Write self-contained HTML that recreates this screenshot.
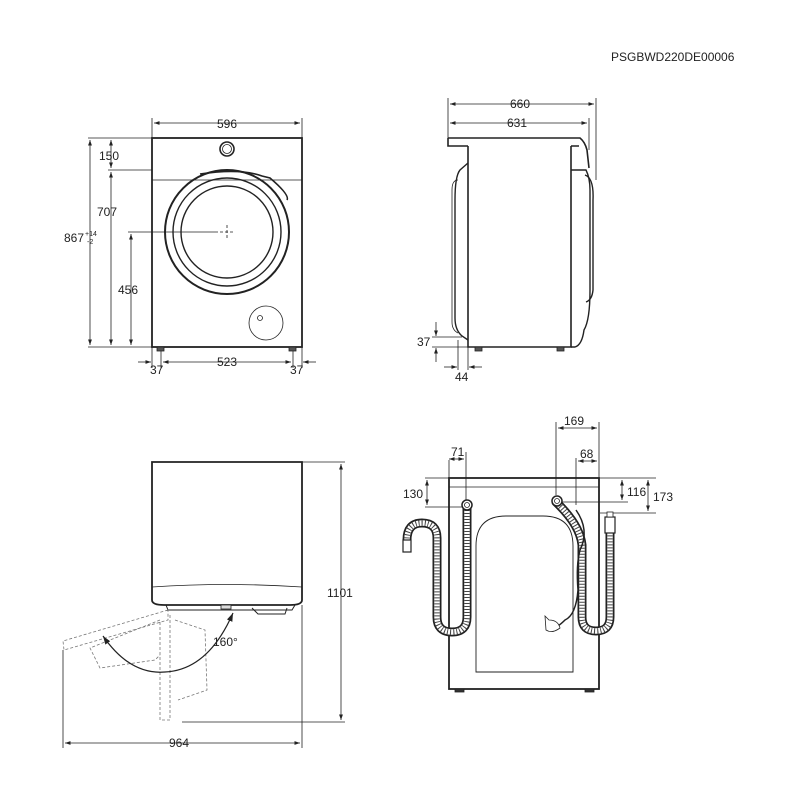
<!DOCTYPE html>
<html><head><style>body{margin:0;background:#fff}svg{display:block}text{font-family:"Liberation Sans",sans-serif;font-size:12px;fill:#222}</style></head>
<body>
<svg width="800" height="800" viewBox="0 0 800 800" xmlns="http://www.w3.org/2000/svg">
<defs>
<marker id="a" viewBox="0 0 10 10" refX="10" refY="5" markerWidth="7" markerHeight="7" orient="auto-start-reverse"><path d="M0,1.5 L10,5 L0,8.5 z" fill="#222"/></marker>
</defs>
<text x="611" y="61">PSGBWD220DE00006</text>
<g stroke="#222" fill="none" stroke-width="0.8">
<!-- FRONT VIEW -->
<rect x="152" y="138" width="150" height="209" stroke-width="1.8"/>
<path d="M152,180 H302" stroke-width="0.8"/>
<path d="M152,118 V138 M302,118 V138 M88,138 H152 M108,170 H152 M88,347 H152 M128,232 H218"/>
<line x1="154" y1="123" x2="300" y2="123" marker-start="url(#a)" marker-end="url(#a)"/>
<line x1="90" y1="140" x2="90" y2="345" marker-start="url(#a)" marker-end="url(#a)"/>
<line x1="111" y1="140" x2="111" y2="168" marker-start="url(#a)" marker-end="url(#a)"/>
<line x1="111" y1="172" x2="111" y2="345" marker-start="url(#a)" marker-end="url(#a)"/>
<line x1="131" y1="234" x2="131" y2="345" marker-start="url(#a)" marker-end="url(#a)"/>
<circle cx="227" cy="232" r="62" stroke-width="2"/>
<path d="M200,174 Q240,168 262,176 L270,178 Q290,195 287,200" stroke-width="1.6"/>
<circle cx="227" cy="232" r="54" stroke-width="1.4"/>
<circle cx="227" cy="232" r="46" stroke-width="1.4"/>
<path d="M220,232 H234 M227,225 V239" stroke-dasharray="3,2"/>
<circle cx="227" cy="149" r="7" stroke-width="1.6"/><circle cx="227" cy="149" r="4.5"/>
<circle cx="266" cy="323" r="17"/><circle cx="260" cy="318" r="2.5"/>
<rect x="157" y="347" width="7" height="4" fill="#555"/><rect x="289" y="347" width="7" height="4" fill="#555"/>
<path d="M152,347 V368 M302,347 V368 M161,351 V368 M293,351 V368"/>
<line x1="138" y1="362" x2="151" y2="362" marker-end="url(#a)"/>
<line x1="163" y1="362" x2="291" y2="362" marker-start="url(#a)" marker-end="url(#a)"/>
<line x1="316" y1="362" x2="303" y2="362" marker-end="url(#a)"/>
<!-- SIDE VIEW -->
<path d="M448,98 V138 M596,98 V180 M589,118 V150"/>
<line x1="450" y1="104" x2="594" y2="104" marker-start="url(#a)" marker-end="url(#a)"/>
<line x1="450" y1="123" x2="587" y2="123" marker-start="url(#a)" marker-end="url(#a)"/>
<path d="M448,138 H580 Q585,142 587,150 L589,168 M448,138 V146 H468 M571,146 H579" stroke-width="1.6"/>
<path d="M468,146 V347 H571 V146" stroke-width="1.6"/>
<path d="M571,170 H586 Q590,178 590,190 V290 Q590,320 584,330 Q582,345 575,347 H571" stroke-width="1.4"/>
<path d="M585,175 Q594,178 593,200 V290 Q592,300 586,302" stroke-width="1.4"/>
<path d="M468,163 L460,170 Q455,176 455,200 V318 Q455,330 462,336 L468,340" stroke-width="1.4"/>
<path d="M458,180 Q452,180 452,190 V322 Q452,330 458,333"/>
<rect x="475" y="347" width="7" height="4" fill="#555"/><rect x="557" y="347" width="7" height="4" fill="#555"/>
<path d="M432,337 H462 M432,347 H468 M458,340 V370 M468,347 V370"/>
<line x1="436" y1="322" x2="436" y2="336" marker-end="url(#a)"/>
<line x1="436" y1="362" x2="436" y2="348" marker-end="url(#a)"/>
<line x1="444" y1="367" x2="457" y2="367" marker-end="url(#a)"/>
<line x1="482" y1="367" x2="469" y2="367" marker-end="url(#a)"/>
<!-- BACK VIEW -->
<rect x="449" y="478" width="150" height="211" stroke-width="1.8"/>
<path d="M449,487 H599"/>
<path d="M476,672 V546 Q476,516 506,516 H543 Q573,516 573,546 V672 Z" stroke-width="0.9"/>
<rect x="455" y="689" width="9" height="3" fill="#333"/><rect x="585" y="689" width="9" height="3" fill="#333"/>
<path d="M449,460 V478 M466,452 V500 M556,422 V495 M599,422 V500 M576,458 V505 M425,478 H449 M425,507 H462 M599,478 H656 M560,502 H628 M600,513 H656"/>
<line x1="449" y1="459" x2="464" y2="459" marker-start="url(#a)" marker-end="url(#a)"/>
<line x1="558" y1="428" x2="597" y2="428" marker-start="url(#a)" marker-end="url(#a)"/>
<line x1="578" y1="461" x2="597" y2="461" marker-start="url(#a)" marker-end="url(#a)"/>
<line x1="427" y1="480" x2="427" y2="505" marker-start="url(#a)" marker-end="url(#a)"/>
<line x1="622" y1="480" x2="622" y2="500" marker-start="url(#a)" marker-end="url(#a)"/>
<line x1="648" y1="480" x2="648" y2="511" marker-start="url(#a)" marker-end="url(#a)"/>
<g stroke-linecap="round">
<path d="M467,507 V617 Q467,632 452,632 Q437,632 437,617 V538 Q437,523 422,523 Q407,523 407,540" stroke="#222" stroke-width="9"/>
<path d="M467,507 V617 Q467,632 452,632 Q437,632 437,617 V538 Q437,523 422,523 Q407,523 407,540" stroke="#fff" stroke-width="5.5"/>
<path d="M467,507 V617 Q467,632 452,632 Q437,632 437,617 V538 Q437,523 422,523 Q407,523 407,540" stroke="#444" stroke-width="5.5" stroke-dasharray="1,2" stroke-linecap="butt"/>
<path d="M556,502 Q580,525 582,545 V617 Q582,631 596,631 Q610,631 610,617 V533" stroke="#222" stroke-width="9"/>
<path d="M556,502 Q580,525 582,545 V617 Q582,631 596,631 Q610,631 610,617 V533" stroke="#fff" stroke-width="5.5"/>
<path d="M556,502 Q580,525 582,545 V617 Q582,631 596,631 Q610,631 610,617 V533" stroke="#444" stroke-width="5.5" stroke-dasharray="1,2" stroke-linecap="butt"/>
</g>
<rect x="403" y="540" width="8" height="12" fill="#fff" stroke-width="1.2"/>
<rect x="605" y="517" width="10" height="16" fill="#fff" stroke-width="1.2"/>
<rect x="607" y="512" width="6" height="5" fill="#fff"/>
<circle cx="467" cy="505" r="5" fill="#fff" stroke-width="1.5"/><circle cx="467" cy="505" r="2.5"/>
<circle cx="557" cy="501" r="5" fill="#fff" stroke-width="1.5"/><circle cx="557" cy="501" r="2.5"/>
<path d="M576,510 Q590,530 580,550 Q576,565 578,590 Q576,615 565,620 Q555,630 550,628" stroke-width="1.5"/>
<path d="M549,620 L545,616 L546,630 Q552,634 560,628 Q558,620 549,620 Z" fill="#fff"/>
<!-- TOP VIEW -->
<path d="M152,600 V462 H302 V600 Q302,605 290,605 H164 Q152,605 152,600 Z" stroke-width="1.8"/>
<path d="M152,587 Q227,582 302,587"/>
<path d="M166,605 H295 L292,610 H168 Z" stroke-width="1"/>
<rect x="221" y="605" width="10" height="4" fill="#ddd"/>
<path d="M252,608 L258,614 H285 L287,608" stroke-width="1"/>
<path d="M302,462 H345 M182,722 H345 M63,650 V748 M302,605 V748"/>
<line x1="341" y1="464" x2="341" y2="720" marker-start="url(#a)" marker-end="url(#a)"/>
<line x1="65" y1="743" x2="300" y2="743" marker-start="url(#a)" marker-end="url(#a)"/>
<g stroke="#777" stroke-dasharray="3,2">
<path d="M168,610 L63,641 L64,650 L168,620 Z"/>
<path d="M160,622 L160,720 L170,720 L170,615"/>
<path d="M160,620 L90,648 L100,668 L155,660 L160,655"/>
<path d="M175,620 L205,630 L207,690 L178,700"/>
</g>
<path d="M103,636 Q130,675 165,672 Q208,670 233,613" stroke-width="1.2" marker-start="url(#a)" marker-end="url(#a)"/>
</g>
<g>
<text x="217" y="128">596</text>
<text x="99" y="160">150</text>
<text x="97" y="216">707</text>
<text x="64" y="242">867</text><text x="85" y="236" style="font-size:7px">+14</text><text x="87" y="244" style="font-size:7px">-2</text>
<text x="118" y="294">456</text>
<text x="150" y="374">37</text>
<text x="217" y="366">523</text>
<text x="290" y="374">37</text>
<text x="510" y="108">660</text>
<text x="507" y="127">631</text>
<text x="417" y="346">37</text>
<text x="455" y="381">44</text>
<text x="451" y="456">71</text>
<text x="564" y="425">169</text>
<text x="580" y="458">68</text>
<text x="403" y="498">130</text>
<text x="627" y="496">116</text>
<text x="653" y="501">173</text>
<text x="213" y="646">160°</text>
<text x="327" y="597">1101</text>
<text x="169" y="747">964</text>
</g>
</svg>
</body></html>
